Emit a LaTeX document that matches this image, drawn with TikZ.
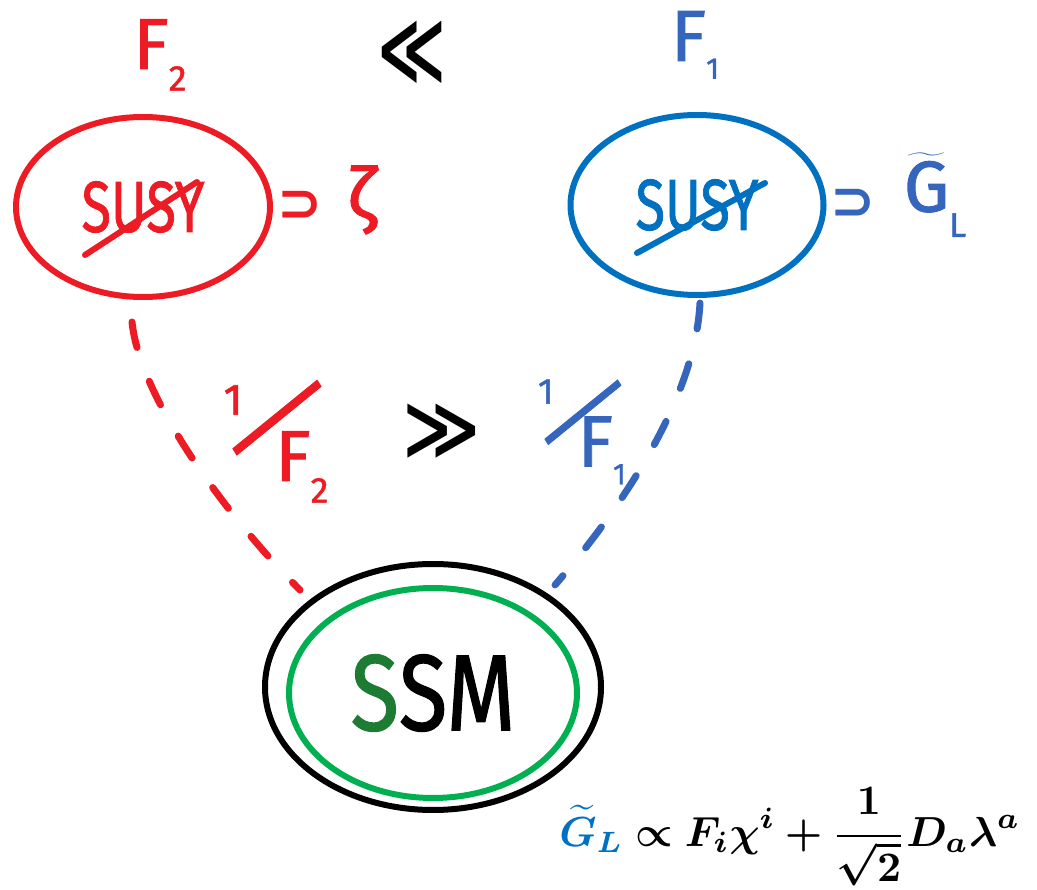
\documentclass[tikz,border=0pt]{standalone}
\usepackage{amsmath,bm}
\usepackage{fontspec}
\setsansfont{Fira Sans}
\newfontfamily\medfont{Fira Sans}[FakeBold=1.3]
\newfontfamily\symfont{DejaVu Sans}
\usetikzlibrary{shapes.geometric,calc}
\definecolor{sred}{HTML}{ED1C24}
\definecolor{sblue}{HTML}{0070C0}
\definecolor{tblue}{HTML}{3565BD}
\definecolor{sgreen}{HTML}{00B050}
\definecolor{dgreen}{HTML}{1E7B34}
\newcommand{\hslash}[1]{\rotatebox[origin=c]{-40}{\scalebox{1}[1.35]{\fontsize{#1}{#1}\selectfont /}}}
\begin{document}
\begin{tikzpicture}[x=1pt,y=-1pt,
  ring/.style={draw,ellipse,line width=6pt,inner sep=0pt},
  lab/.style={font=\medfont\fontsize{72}{72}\selectfont,inner sep=0pt},
  susytxt/.style={font=\medfont\fontsize{72}{72}\selectfont},
  symb/.style={font=\symfont\bfseries\fontsize{60}{60}\selectfont,inner sep=0pt},
  strike/.style={line width=6pt,line cap=round},
  dashline/.style={line width=7pt,line cap=round,dash pattern=on 26pt off 36pt}]
\path[use as bounding box] (0,0) rectangle (1037,890);

% top labels
\node[lab,text=sred] (f2) at (160,55) {F\raisebox{-0.3em}{\fontsize{36}{36}\selectfont 2}};
\node[symb,xscale=1.1,yscale=1.5] (ll) at (412,52) {≪};
\node[lab,text=tblue] (f1) at (695,45) {F\raisebox{-0.25em}{\fontsize{30}{30}\selectfont 1}};

% SUSY ellipses
\node[ring,draw=sred,minimum width=254,minimum height=180,text=sred,susytxt] (susyR) at (143,207) {\scalebox{0.75}[1]{SUSY}};
\node[ring,draw=sblue,minimum width=253,minimum height=180,text=sblue,susytxt] (susyB) at (697,205) {\scalebox{0.75}[1]{SUSY}};
\draw[strike,sred] ($(susyR.center)+(-58,48)$) -- ($(susyR.center)+(54,-25)$);
\draw[strike,sblue] ($(susyB.center)+(-60,48)$) -- ($(susyB.center)+(68,-22)$);

% contains
\node[symb,text=sred,scale=0.9] (supR) at (300,206) {⊃};
\node[lab,text=sred] (zeta) at (362,200) {ζ};
\node[symb,text=tblue,scale=0.9] (supB) at (853,204) {⊃};
\node[lab,text=tblue] (gl) at (935,195) {$\widetilde{\mbox{G}}$\raisebox{-0.35em}{\fontsize{34}{34}\selectfont L}};

% SSM
\node[ring,draw=black,minimum width=336,minimum height=246] (ssmOut) at (433,687) {};
\node[ring,draw=sgreen,minimum width=288,minimum height=210,font=\medfont\fontsize{108}{108}\selectfont] (ssmIn) at (433,693) {\scalebox{0.82}[1]{\textcolor{dgreen}{S}SM}};

% dashed connectors
\draw[dashline,sred] ($(susyR.south)+(-11,22)$) .. controls (140,400) and (230,520) .. ($(ssmOut.center)+(-133,-97)$);
\draw[dashline,tblue] ($(susyB.south)+(3,5)$) .. controls (695,400) and (620,510) .. ($(ssmOut.center)+(122,-102)$);

% middle labels
\node[lab,text=sred] (invf2) at (276,432) {\raisebox{0.62em}{\fontsize{44}{44}\selectfont 1}\kern-0.25em\hslash{88}\kern-0.75em\raisebox{-0.3em}{F\raisebox{-0.3em}{\fontsize{36}{36}\selectfont 2}}};
\node[symb,xscale=1.25,yscale=1.3] (gg) at (442,431) {≫};
\node[lab,text=tblue] (invf1) at (582,424) {\raisebox{0.62em}{\fontsize{36}{36}\selectfont 1}\kern-0.22em\hslash{76}\kern-0.7em\raisebox{-0.25em}{F\raisebox{-0.25em}{\fontsize{30}{30}\selectfont 1}}};

% formula
\node[inner sep=0pt,scale=4.2] (eq) at (790,837) {$\displaystyle\bm{\textcolor{sblue}{\widetilde{G}_L}\propto F_i\chi^i+\frac{1}{\sqrt{2}}D_a\lambda^a}$};
\end{tikzpicture}
\end{document}
